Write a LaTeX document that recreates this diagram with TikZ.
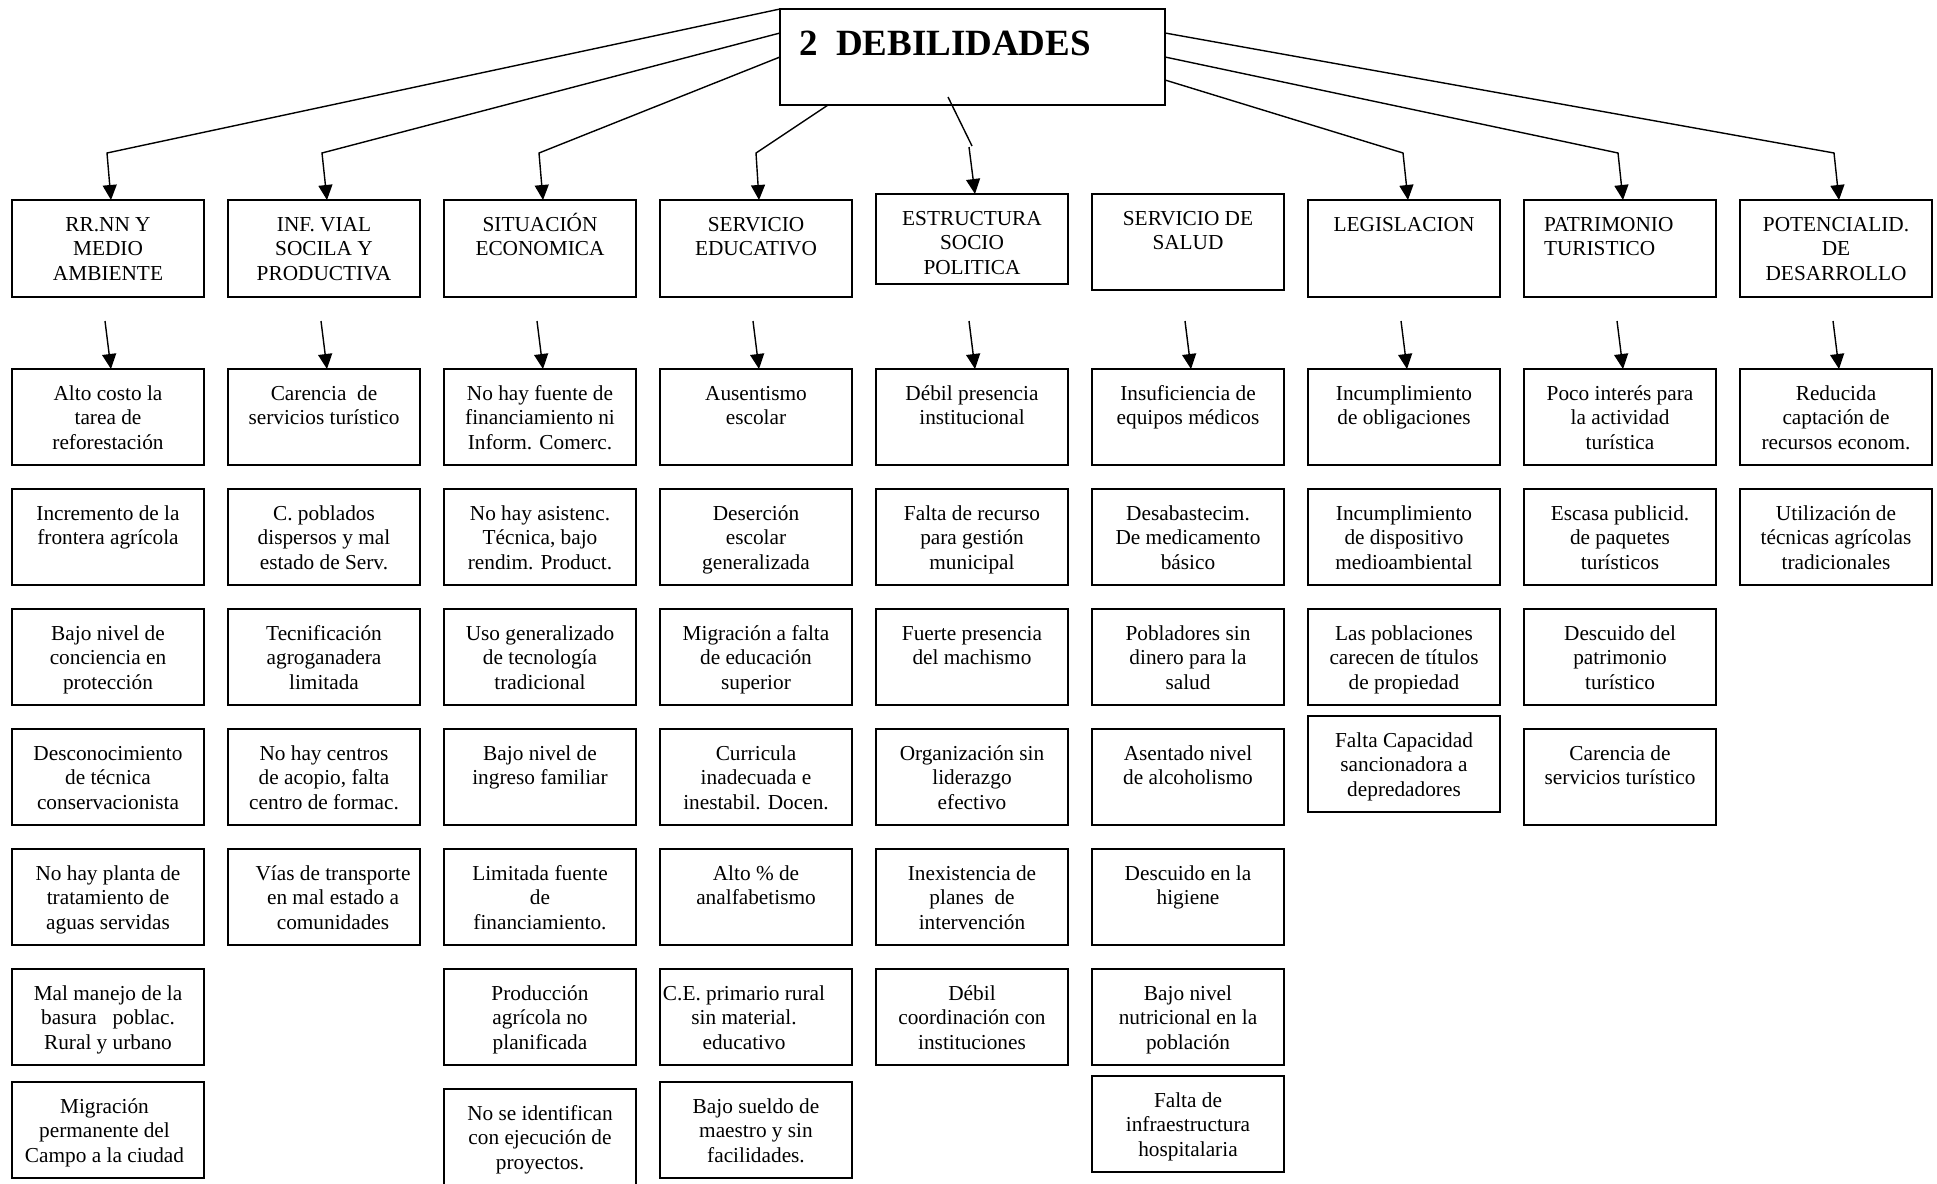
\documentclass[tikz,border=0pt]{standalone}
\usepackage{fontspec}
\setmainfont{Liberation Serif}
\usetikzlibrary{arrows.meta,calc}
\newcommand\ct[3][96pt]{\parbox[c][#1][t]{192pt}{\centering\leftskip=#2 plus 1fil\relax\rightskip=-#2 plus 1fil\relax\rule{0pt}{31pt}#3}}
\tikzset{
  cell/.style={draw, line width=1.5pt, inner sep=0pt, outer sep=0pt, anchor=north west,
    font=\fontsize{21.3pt}{24.6pt}\selectfont},
  arr/.style={line width=1.4pt, -{Triangle[length=15pt,width=14pt]}},
  conn/.style={line width=1.4pt}
}
\begin{document}
\begin{tikzpicture}[x=1pt,y=-1pt]
\useasboundingbox (0,0) rectangle (1937,1183);
\fill[white] (0,0) rectangle (1937,1183);
% title
\node[draw, line width=1.8pt, inner sep=0pt, outer sep=0pt, anchor=north west] (title) at (780,9)
  {\parbox[c][96pt][t]{385pt}{\hspace*{19pt}\rule{0pt}{46pt}\fontsize{37pt}{40pt}\selectfont\bfseries 2\ \ DEBILIDADES}};
% categories
\node[cell] (c1) at (12,200) {\ct[97pt]{0pt}{RR.NN Y\\MEDIO\\AMBIENTE}};
\node[cell] (c2) at (228,200) {\ct[97pt]{0pt}{INF. VIAL\\SOCILA Y\\PRODUCTIVA}};
\node[cell] (c3) at (444,200) {\ct[97pt]{0pt}{SITUACIÓN\\ECONOMICA}};
\node[cell] (c4) at (660,200) {\ct[97pt]{0pt}{SERVICIO\\EDUCATIVO}};
\node[cell] (c5) at (876,194) {\ct[90pt]{0pt}{ESTRUCTURA\\SOCIO\\POLITICA}};
\node[cell] (c6) at (1092,194) {\ct[96pt]{0pt}{SERVICIO DE\\SALUD}};
\node[cell] (c7) at (1308,200) {\ct[97pt]{0pt}{LEGISLACION}};
\node[cell] (c8) at (1524,200) {\parbox[c][97pt][t]{192pt}{\raggedright\leftskip=20pt\relax\rule{0pt}{31pt}PATRIMONIO\\TURISTICO}};
\node[cell] (c9) at (1740,200) {\ct[97pt]{0pt}{POTENCIALID.\\DE\\DESARROLLO}};
% column 1
\node[cell] (d11) at (12,369) {\ct{0pt}{Alto costo la\\tarea de\\reforestación}};
\node[cell] (d12) at (12,489) {\ct{0pt}{Incremento de la\\frontera agrícola}};
\node[cell] (d13) at (12,609) {\ct{0pt}{Bajo nivel de\\conciencia en\\protección}};
\node[cell] (d14) at (12,729) {\ct{0pt}{Desconocimiento\\de técnica\\conservacionista}};
\node[cell] (d15) at (12,849) {\ct{0pt}{No hay planta de\\tratamiento de\\aguas servidas}};
\node[cell] (d16) at (12,969) {\ct{0pt}{Mal manejo de la\\basura\ \ \ poblac.\\Rural y urbano}};
\node[cell] (d17) at (12,1082) {\ct{-3.5pt}{Migración\\permanente del\\Campo a la ciudad}};
% column 2
\node[cell] (d21) at (228,369) {\ct{0pt}{Carencia\ \ de\\servicios turístico}};
\node[cell] (d22) at (228,489) {\ct{0pt}{C. poblados\\dispersos y mal\\estado de Serv.}};
\node[cell] (d23) at (228,609) {\ct{0pt}{Tecnificación\\agroganadera\\limitada}};
\node[cell] (d24) at (228,729) {\ct{0pt}{No hay centros\\de acopio, falta\\centro de formac.}};
\node[cell] (d25) at (228,849) {\ct{9pt}{Vías de transporte\\en mal estado a\\comunidades}};
% column 3
\node[cell] (d31) at (444,369) {\ct{0pt}{No hay fuente de\\financiamiento ni\\Inform. Comerc.}};
\node[cell] (d32) at (444,489) {\ct{0pt}{No hay asistenc.\\Técnica, bajo\\rendim. Product.}};
\node[cell] (d33) at (444,609) {\ct{0pt}{Uso generalizado\\de tecnología\\tradicional}};
\node[cell] (d34) at (444,729) {\ct{0pt}{Bajo nivel de\\ingreso familiar}};
\node[cell] (d35) at (444,849) {\ct{0pt}{Limitada fuente\\de\\financiamiento.}};
\node[cell] (d36) at (444,969) {\ct{0pt}{Producción\\agrícola no\\planificada}};
\node[cell] (d37) at (444,1089) {\ct{0pt}{No se identifican\\con ejecución de\\proyectos.}};
% column 4
\node[cell] (d41) at (660,369) {\ct{0pt}{Ausentismo\\escolar}};
\node[cell] (d42) at (660,489) {\ct{0pt}{Deserción\\escolar\\generalizada}};
\node[cell] (d43) at (660,609) {\ct{0pt}{Migración a falta\\de educación\\superior}};
\node[cell] (d44) at (660,729) {\ct{0pt}{Curricula\\inadecuada e\\inestabil. Docen.}};
\node[cell] (d45) at (660,849) {\ct{0pt}{Alto \% de\\analfabetismo}};
\node[cell] (d46) at (660,969) {\ct{-12pt}{C.E. primario rural\\sin material.\\educativo}};
\node[cell] (d47) at (660,1082) {\ct{0pt}{Bajo sueldo de\\maestro y sin\\facilidades.}};
% column 5
\node[cell] (d51) at (876,369) {\ct{0pt}{Débil presencia\\institucional}};
\node[cell] (d52) at (876,489) {\ct{0pt}{Falta de recurso\\para gestión\\municipal}};
\node[cell] (d53) at (876,609) {\ct{0pt}{Fuerte presencia\\del machismo}};
\node[cell] (d54) at (876,729) {\ct{0pt}{Organización sin\\liderazgo\\efectivo}};
\node[cell] (d55) at (876,849) {\ct{0pt}{Inexistencia de\\planes\ \ de\\intervención}};
\node[cell] (d56) at (876,969) {\ct{0pt}{Débil\\coordinación con\\instituciones}};
% column 6
\node[cell] (d61) at (1092,369) {\ct{0pt}{Insuficiencia de\\equipos médicos}};
\node[cell] (d62) at (1092,489) {\ct{0pt}{Desabastecim.\\De medicamento\\básico}};
\node[cell] (d63) at (1092,609) {\ct{0pt}{Pobladores sin\\dinero para la\\salud}};
\node[cell] (d64) at (1092,729) {\ct{0pt}{Asentado nivel\\de alcoholismo}};
\node[cell] (d65) at (1092,849) {\ct{0pt}{Descuido en la\\higiene}};
\node[cell] (d66) at (1092,969) {\ct{0pt}{Bajo nivel\\nutricional en la\\población}};
\node[cell] (d67) at (1092,1076) {\ct{0pt}{Falta de\\infraestructura\\hospitalaria}};
% column 7
\node[cell] (d71) at (1308,369) {\ct{0pt}{Incumplimiento\\de obligaciones}};
\node[cell] (d72) at (1308,489) {\ct{0pt}{Incumplimiento\\de dispositivo\\medioambiental}};
\node[cell] (d73) at (1308,609) {\ct{0pt}{Las poblaciones\\carecen de títulos\\de propiedad}};
\node[cell] (d74) at (1308,716) {\ct{0pt}{Falta Capacidad\\sancionadora a\\depredadores}};
% column 8
\node[cell] (d81) at (1524,369) {\ct{0pt}{Poco interés para\\la actividad\\turística}};
\node[cell] (d82) at (1524,489) {\ct{0pt}{Escasa publicid.\\de paquetes\\turísticos}};
\node[cell] (d83) at (1524,609) {\ct{0pt}{Descuido del\\patrimonio\\turístico}};
\node[cell] (d84) at (1524,729) {\ct{0pt}{Carencia de\\servicios turístico}};
% column 9
\node[cell] (d91) at (1740,369) {\ct{0pt}{Reducida\\captación de\\recursos econom.}};
\node[cell] (d92) at (1740,489) {\ct{0pt}{Utilización de\\técnicas agrícolas\\tradicionales}};
% bends of the top connectors
\coordinate (b1) at (107,153);
\coordinate (b2) at (322,153);
\coordinate (b3) at (539,153);
\coordinate (b4) at (756,153);
\coordinate (b5) at (972,146);
\coordinate (b5s) at (969,147);
\coordinate (b5a) at (948,97);
\coordinate (b7) at (1403,153);
\coordinate (b8) at (1618,153);
\coordinate (b9) at (1834,153);
\draw[arr] (title.north west) -- (b1) -- ($(c1.north)+(3,0)$);
\draw[arr] ($(title.north west)+(0,24)$) -- (b2) -- ($(c2.north)+(3,0)$);
\draw[arr] ($(title.north west)+(0,48)$) -- (b3) -- ($(c3.north)+(3,0)$);
\draw[arr] ($(title.south west)+(48,0)$) -- (b4) -- ($(c4.north)+(3,0)$);
\draw[conn] (b5a) -- (b5);
\draw[arr] (b5s) -- ($(c5.north)+(3,0)$);
\draw[arr] ($(title.north east)+(0,71)$) -- (b7) -- ($(c7.north)+(4,0)$);
\draw[arr] ($(title.north east)+(0,48)$) -- (b8) -- ($(c8.north)+(3,0)$);
\draw[arr] ($(title.north east)+(0,24)$) -- (b9) -- ($(c9.north)+(3,0)$);
% arrows from categories to first items
\foreach \i/\cx in {1/108,2/324,3/540,4/756,5/972,6/1188,7/1404,8/1620,9/1836}{
  \coordinate (s\i) at (\cx-3,321);
  \draw[arr] (s\i) -- ($(d\i1.north)+(3,0)$);
}
\end{tikzpicture}
\end{document}
